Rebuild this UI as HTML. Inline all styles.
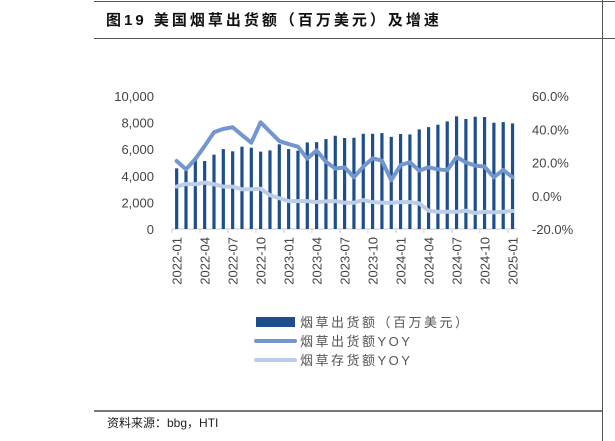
<!DOCTYPE html>
<html><head><meta charset="utf-8"><style>
body{margin:0;background:#fff;width:615px;height:441px;overflow:hidden;position:relative;font-family:"Liberation Sans","Noto Sans CJK SC",sans-serif}
.abs{position:absolute}
</style></head><body>
<div class="abs" style="left:94px;top:1px;width:521px;height:1px;background:#555"></div>
<div class="abs" style="left:106px;top:9px;font-size:15px;font-weight:bold;color:#111;letter-spacing:3px;font-family:'Liberation Sans','Noto Sans CJK SC',sans-serif">图19 美国烟草出货额（百万美元）及增速</div>
<div class="abs" style="left:94px;top:38px;width:521px;height:1px;background:#555"></div>
<div class="abs" style="left:602px;top:0;width:1px;height:441px;background:#555"></div>
<div class="abs" style="left:94px;top:410px;width:508px;height:2px;background:#777"></div>
<div class="abs" style="left:107px;top:414px;font-size:12px;color:#222">资料来源：bbg，HTI</div>
<svg class="abs" style="left:0;top:0" width="615" height="441" id="chart"></svg>
<script>
const categories=["2022-01","2022-02","2022-03","2022-04","2022-05","2022-06","2022-07","2022-08","2022-09","2022-10","2022-11","2022-12","2023-01","2023-02","2023-03","2023-04","2023-05","2023-06","2023-07","2023-08","2023-09","2023-10","2023-11","2023-12","2024-01","2024-02","2024-03","2024-04","2024-05","2024-06","2024-07","2024-08","2024-09","2024-10","2024-11","2024-12","2025-01"];
const shipments=[4560,4500,5260,5110,5590,6010,5840,6190,6110,5820,5910,6370,6010,5890,6510,6530,6760,7010,6840,6860,7160,7160,7210,6930,7140,7110,7490,7660,7840,8090,8470,8270,8440,8420,7990,8040,7940];
const shipYoy=[20.9,15.9,22.1,29.9,38.2,40.2,41.2,36.5,31.9,44.2,38.5,32.9,31.1,29.5,22.3,27.3,20.5,16.3,17.1,11.1,17.5,22.5,21.1,9.3,18.5,20.1,15.1,17.1,15.9,15.3,23.3,20.1,18.1,17.5,11.1,15.5,11.1];
const invYoy=[5.5,7.1,6.9,7.9,6.9,5.5,5.5,3.9,3.9,4.3,0.3,-1.5,-3.2,-3.2,-3.2,-3.8,-3.4,-3.2,-4.2,-4.2,-2.6,-3.8,-4.2,-4.2,-3.8,-3.8,-4.6,-9.0,-9.6,-9.6,-9.6,-9.0,-10.4,-9.6,-10,-9.6,-9.2];
const leftTicks=[0,2000,4000,6000,8000,10000];
const rightTicks=[-20,0,20,40,60];
const svg=document.getElementById('chart');const NS="http://www.w3.org/2000/svg";
const X0=172,STEP=9.33,YB=229,YT=96;
const xc=i=>X0+STEP*(i+0.5);
const yL=v=>YB-(v/10000)*(YB-YT);
const yR=v=>YB-((v+20)/80)*(YB-YT);
function mk(t,a,p){const e=document.createElementNS(NS,t);for(const k in a)e.setAttribute(k,a[k]);(p||svg).appendChild(e);return e;}
leftTicks.forEach(v=>{const t=mk('text',{x:154,y:yL(v)+5,'text-anchor':'end','font-size':13,fill:'#444'});t.textContent=v.toLocaleString('en-US');

});
rightTicks.forEach(v=>{const t=mk('text',{x:532,y:yR(v)+5,'font-size':13,fill:'#444'});t.textContent=v.toFixed(1)+'%';

});
const ax=mk('line',{x1:X0,x2:X0+STEP*categories.length,y1:YB,y2:YB,stroke:'#ccc','stroke-width':1});


categories.forEach((c,i)=>{if(i%3===0){const tk=mk('line',{x1:X0+STEP*i,x2:X0+STEP*i,y1:YB,y2:YB+4,stroke:'#ccc'});


const t=mk('text',{x:0,y:0,'font-size':13,fill:'#444','text-anchor':'end',transform:`translate(${xc(i)+5},${YB+8}) rotate(-90)`});t.textContent=c;

}});
shipments.forEach((v,i)=>{const r=mk('rect',{x:xc(i)-1.6,y:yL(v),width:3.2,height:YB-yL(v),fill:'#1f4e8c'});

});
function line(arr,col,name){const p=mk('polyline',{points:arr.map((v,i)=>xc(i)+','+yR(v)).join(' '),fill:'none',stroke:col,'stroke-width':4,'stroke-linejoin':'round','stroke-linecap':'round'});

}
line(invYoy,'#bccde9','inventory-yoy-line');
line(shipYoy,'#7396d1','shipment-yoy-line');
const lg=[['rect','#1f4e8c','烟草出货额（百万美元）'],['line','#7396d1','烟草出货额YOY'],['line','#bccde9','烟草存货额YOY']];
lg.forEach((l,i)=>{const y=322+i*19;
if(l[0]==='rect'){const r=mk('rect',{x:256,y:y-5,width:39,height:10,fill:l[1]});}
else{const r=mk('line',{x1:256,x2:295,y1:y,y2:y,stroke:l[1],'stroke-width':4,'stroke-linecap':'round'});}
const t=mk('text',{x:300,y:y+5,'font-size':13,fill:'#555','letter-spacing':'2.5'});t.textContent=l[2];

});
</script>
</body></html>
